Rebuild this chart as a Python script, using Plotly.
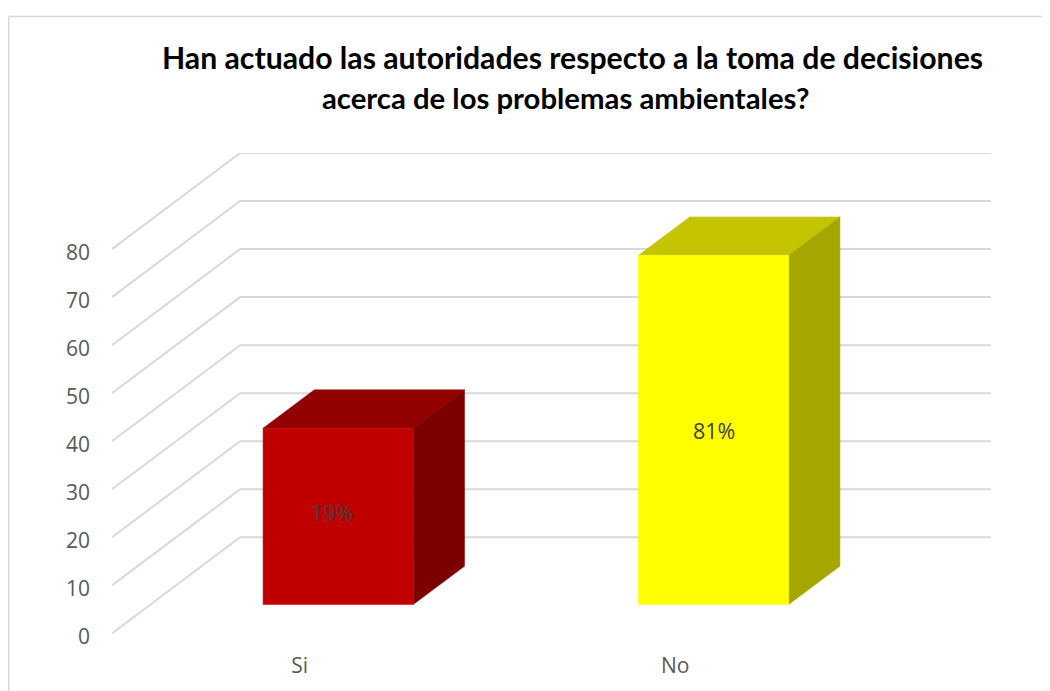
"""
Pseudo 3D column chart: authorities and environmental decisions.
"""

import plotly.graph_objects as go

title_lines = [
    "Han actuado las autoridades respecto a la toma de decisiones",
    "acerca de los problemas ambientales?",
]

categories = ["Si", "No"]
values = [36.7, 72.7]
labels = ["19%", "81%"]
front_colors = ["#C00000", "#FFFF00"]
top_colors = ["#920000", "#C4C400"]
side_colors = ["#7C0000", "#A6A600"]

y_ticks = [0, 10, 20, 30, 40, 50, 60, 70, 80]

# oblique projection: how far one full depth moves a point, in axis units
DEPTH_X = 128 / 375
DEPTH_Y = 20
BAR_WIDTH = 0.4
BAR_NEAR = 0.30
BAR_FAR = 0.70
GRID = "#D9D9D9"
# tick labels sit slightly under their wall lines in the original
TICK_DROP = 0.7
Y_FLOOR = -2

# the page body adds 8px on each side, so the figure is 8px smaller than the window
WIDTH = 1042
HEIGHT = 683
MARGIN = {"l": 104, "r": 59, "t": 145, "b": 48.4}
PLOT_W = WIDTH - MARGIN["l"] - MARGIN["r"]
PLOT_H = HEIGHT - MARGIN["t"] - MARGIN["b"]


def project(x, y, depth):
    return x + depth * DEPTH_X, y + depth * DEPTH_Y


def face(points, color):
    xs, ys = zip(*[project(*p) for p in points + points[:1]])
    return go.Scatter(
        x=xs,
        y=ys,
        mode="lines",
        fill="toself",
        fillcolor=color,
        line={"color": color, "width": 0.5},
        hoverinfo="skip",
    )


fig = go.Figure()

# walls
for tick in y_ticks:
    xs, ys = zip(project(-0.5, tick, 0), project(-0.5, tick, 1), project(1.5, tick, 1))
    fig.add_trace(
        go.Scatter(
            x=xs,
            y=ys,
            mode="lines",
            line={"color": GRID, "width": 2},
            cliponaxis=False,
            hoverinfo="skip",
        )
    )

# boxes
for i, value in enumerate(values):
    left = i - BAR_WIDTH / 2
    right = i + BAR_WIDTH / 2
    fig.add_trace(
        face(
            [(left, value, BAR_NEAR), (right, value, BAR_NEAR), (right, value, BAR_FAR), (left, value, BAR_FAR)],
            top_colors[i],
        )
    )
    fig.add_trace(
        face(
            [(right, 0, BAR_NEAR), (right, 0, BAR_FAR), (right, value, BAR_FAR), (right, value, BAR_NEAR)],
            side_colors[i],
        )
    )
    fig.add_trace(
        face(
            [(left, 0, BAR_NEAR), (right, 0, BAR_NEAR), (right, value, BAR_NEAR), (left, value, BAR_NEAR)],
            front_colors[i],
        )
    )

# data labels, the red one sits a little off centre in the original
for i, value in enumerate(values):
    label_x, label_y = project(i, value / 2, BAR_NEAR)
    fig.add_annotation(
        x=label_x,
        y=label_y,
        text=labels[i],
        showarrow=False,
        xshift=-6 if i == 0 else 0,
        yshift=4 if i == 0 else -1,
        font={"family": "Open Sans", "size": 21.5, "color": "#404040"},
    )

# title, two annotations to get the wide line spacing
for i, line in enumerate(title_lines):
    fig.add_annotation(
        text=f"<b>{line}</b>",
        xref="paper",
        yref="paper",
        x=0.524,
        y=1,
        xshift=-7 * i,
        yshift=116 - i * 41,
        showarrow=False,
        font={"family": "Lato", "size": 30.2 - 0.9 * i, "color": "#000000"},
    )

# chart frame, open on the right and at the bottom
FRAME_X = (0.75 - MARGIN["l"]) / PLOT_W
FRAME_Y = (HEIGHT - MARGIN["b"] - 8.5) / PLOT_H
fig.add_shape(
    type="line", xref="paper", yref="paper",
    x0=FRAME_X, x1=FRAME_X, y0=-MARGIN["b"] / PLOT_H, y1=FRAME_Y,
    line={"color": GRID, "width": 1.5},
)
fig.add_shape(
    type="line", xref="paper", yref="paper",
    x0=FRAME_X, x1=(WIDTH - MARGIN["l"]) / PLOT_W, y0=FRAME_Y, y1=FRAME_Y,
    line={"color": GRID, "width": 1.5},
)

fig.update_layout(
    width=WIDTH,
    height=HEIGHT,
    showlegend=False,
    plot_bgcolor="white",
    paper_bgcolor="white",
    margin=MARGIN,
    font={"family": "Open Sans", "color": "#595959", "size": 21},
    xaxis={
        "range": [-0.5, 1.5 + DEPTH_X],
        "tickvals": list(range(len(categories))),
        "ticktext": categories,
        "showgrid": False,
        "zeroline": False,
        "showline": False,
        "ticks": "",
        "ticklabelstandoff": 8,
    },
    yaxis={
        "range": [Y_FLOOR, 80 + DEPTH_Y],
        "tickvals": [t - TICK_DROP for t in y_ticks],
        "ticktext": [str(t) for t in y_ticks],
        "showgrid": False,
        "zeroline": False,
        "showline": False,
        "ticks": "",
        "ticklabelstandoff": 21,
    },
)

fig.write_html("out.html")
